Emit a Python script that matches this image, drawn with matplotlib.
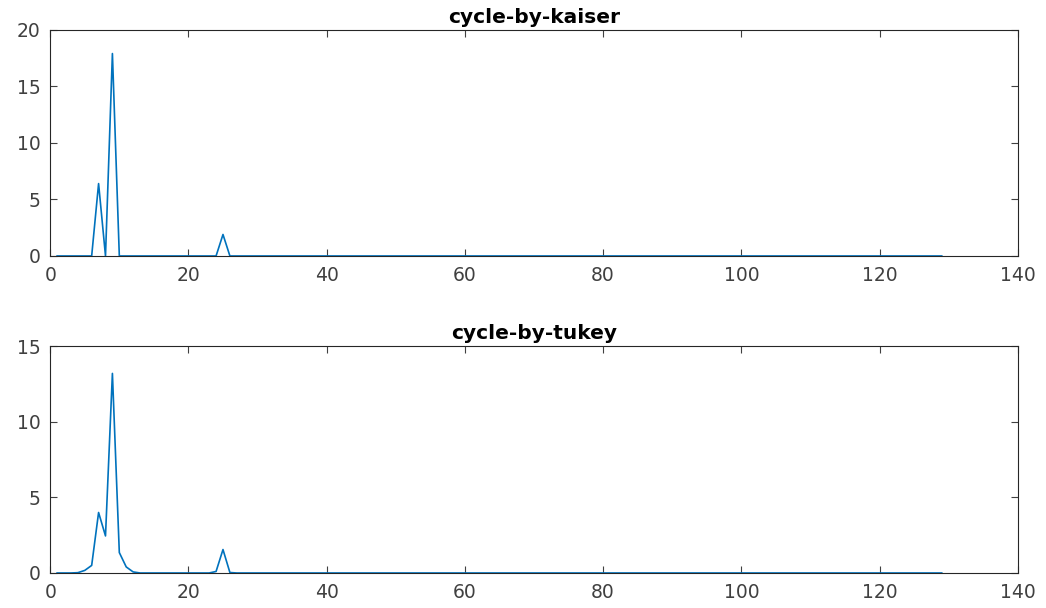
import matplotlib
matplotlib.use("Agg")
import matplotlib.pyplot as plt

# Index 1..129
x_index = list(range(1, 130))

# cycle-by-kaiser values (index 1..129)
kaiser_values = ([0.0] * 5 +                  # 1-5
                 [0.0, 6.4, 0.0, 17.9, 0.0] +   # 6-10
                 [0.0] * 13 +                  # 11-23
                 [0.0, 1.9, 0.0] +             # 24-26
                 [0.0] * 103)                  # 27-129

# cycle-by-tukey values (index 1..129)
tukey_values = ([0.0, 0.0, 0.0, 0.02, 0.17] +            # 1-5
                [0.5, 4.0, 2.45, 13.2, 1.35] +            # 6-10
                [0.4, 0.07, 0.0] +                        # 11-13
                [0.0] * 10 +                              # 14-23
                [0.1, 1.55, 0.03] +                       # 24-26
                [0.0] * 103)                              # 27-129

titles = ["cycle-by-kaiser", "cycle-by-tukey"]
x_ticks = [0, 20, 40, 60, 80, 100, 120, 140]
y_ticks_top = [0, 5, 10, 15, 20]
y_ticks_bottom = [0, 5, 10, 15]

plt.rcParams['font.family'] = ['DejaVu Sans']

fig = plt.figure(figsize=(10.46, 6.08), dpi=100)
ax1 = fig.add_axes([0.048, 0.579, 0.925, 0.372])
ax2 = fig.add_axes([0.048, 0.0576, 0.925, 0.373])

line_color = "#0072BD"
axis_color = "#262626"

for ax, vals, title, yt in [(ax1, kaiser_values, titles[0], y_ticks_top),
                             (ax2, tukey_values, titles[1], y_ticks_bottom)]:
    ax.plot(x_index, vals, color=line_color, linewidth=1.2)
    ax.set_xlim(0, 140)
    ax.set_ylim(yt[0], yt[-1])
    ax.set_xticks(x_ticks)
    ax.set_yticks(yt)
    ax.tick_params(direction="in", length=5, width=0.8, colors="#404040",
                   labelsize=13.5, top=True, right=True)
    ax.tick_params(axis="y", pad=7)
    ax.tick_params(axis="x", pad=7)
    for s in ax.spines.values():
        s.set_color(axis_color)
        s.set_linewidth(0.8)
    ax.set_title(title, fontsize=14.5, fontweight="bold", color="black", pad=5)

fig.savefig("out.png", dpi=100)
